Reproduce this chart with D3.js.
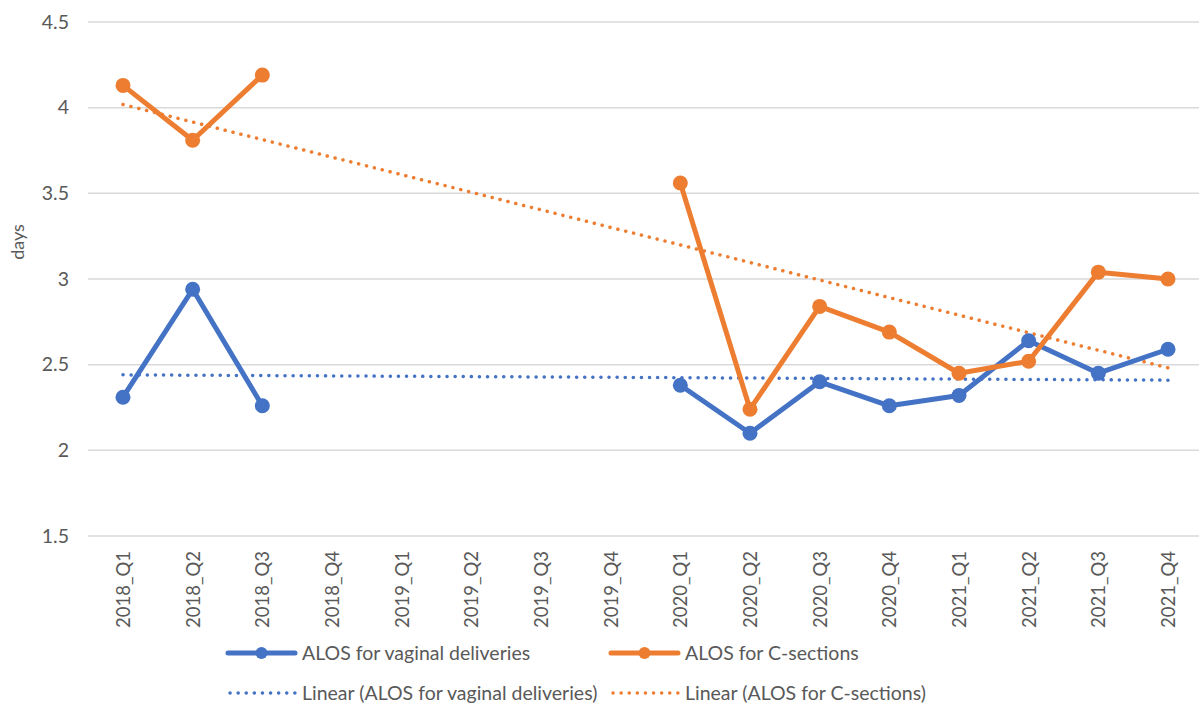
<!DOCTYPE html>
<html>
<head>
<meta charset="utf-8">
<script src="https://cdn.jsdelivr.net/npm/d3@7"></script>
<style>
  body { margin: 0; background: #fff; }
  text { font-family: Lato, "Open Sans", sans-serif; fill: #595959; }
</style>
</head>
<body>
<div id="chart-area"></div>
<script>
// Data
var quarters = ["2018_Q1", "2018_Q2", "2018_Q3", "2018_Q4", "2019_Q1", "2019_Q2", "2019_Q3", "2019_Q4",
                "2020_Q1", "2020_Q2", "2020_Q3", "2020_Q4", "2021_Q1", "2021_Q2", "2021_Q3", "2021_Q4"];
var vaginal = [2.31, 2.94, 2.26, null, null, null, null, null, 2.38, 2.10, 2.40, 2.26, 2.32, 2.64, 2.45, 2.59];
var csection = [4.13, 3.81, 4.19, null, null, null, null, null, 3.56, 2.24, 2.84, 2.69, 2.45, 2.52, 3.04, 3.00];
var yTicks = [1.5, 2, 2.5, 3, 3.5, 4, 4.5];
var seriesNames = ["ALOS for vaginal deliveries", "ALOS for C-sections"];
var colors = ["#4472C4", "#ED7D31"];

var W = 1199, H = 706;
var svg = d3.select("#chart-area").append("svg")
    .attr("width", W)
    .attr("height", H);

// Scales
var x = d3.scalePoint().domain(quarters).range([123, 1168]);
var y = d3.scaleLinear().domain([1.5, 4.5]).range([536, 22]);

// Gridlines
svg.append("g").selectAll("line")
    .data(yTicks)
    .enter().append("line")
    .attr("x1", 88).attr("x2", W)
    .attr("y1", d => y(d)).attr("y2", d => y(d))
    .attr("stroke", "#d9d9d9")
    .attr("stroke-width", 1.5);

// Y axis labels
var yAxis = svg.append("g")
    .attr("transform", "translate(69,0)")
    .call(d3.axisLeft(y).tickValues(yTicks).tickSize(0).tickPadding(0).tickFormat(d3.format("")));
yAxis.select(".domain").remove();
yAxis.attr("font-size", null).attr("font-family", null);
yAxis.selectAll("text").style("font-size", "19.5px").style("fill", "#595959");

svg.append("text")
    .attr("transform", "translate(24,242) rotate(-90)")
    .attr("text-anchor", "middle")
    .style("font-size", "18px")
    .text("days");

// X axis labels
var xAxis = svg.append("g")
    .attr("transform", "translate(0,540)")
    .call(d3.axisBottom(x).tickSize(0).tickPadding(0));
xAxis.select(".domain").remove();
xAxis.attr("font-size", null).attr("font-family", null);
xAxis.selectAll("text")
    .style("font-size", "18.5px")
    .style("fill", "#595959")
    .attr("text-anchor", "end")
    .attr("transform", "rotate(-90)")
    .attr("x", -11)
    .attr("y", 0)
    .attr("dy", "0.35em");

// Trend lines (least squares over present points)
function trend(vals) {
    var pts = vals.map((v, i) => [i + 1, v]).filter(p => p[1] != null);
    var mx = d3.mean(pts, p => p[0]), my = d3.mean(pts, p => p[1]);
    var sxy = d3.sum(pts, p => (p[0] - mx) * (p[1] - my));
    var sxx = d3.sum(pts, p => (p[0] - mx) * (p[0] - mx));
    var b = sxy / sxx, a = my - b * mx;
    return [0, quarters.length - 1].map(i => ({q: quarters[i], v: a + b * (i + 1)}));
}

var line = d3.line()
    .defined(d => d.v != null)
    .x(d => x(d.q))
    .y(d => y(d.v));

[vaginal, csection].forEach((vals, i) => {
    svg.append("path")
        .datum(trend(vals))
        .attr("fill", "none")
        .attr("stroke", colors[i])
        .attr("stroke-width", 3.5)
        .attr("stroke-linecap", "round")
        .attr("stroke-dasharray", "0.1,8")
        .attr("d", line);
});

[vaginal, csection].forEach((vals, i) => {
    var data = vals.map((v, j) => ({q: quarters[j], v: v}));
    svg.append("path")
        .datum(data)
        .attr("fill", "none")
        .attr("stroke", colors[i])
        .attr("stroke-width", 5)
        .attr("stroke-linejoin", "round")
        .attr("d", line);
    svg.append("g").selectAll("circle")
        .data(data.filter(d => d.v != null))
        .enter().append("circle")
        .attr("cx", d => x(d.q))
        .attr("cy", d => y(d.v))
        .attr("r", 7.5)
        .attr("fill", colors[i]);
});

// Legend
var legendX = [228, 611];
seriesNames.forEach((name, i) => {
    var g = svg.append("g").attr("transform", "translate(" + legendX[i] + ",653)");
    g.append("line").attr("x1", 0).attr("x2", 67)
        .attr("stroke", colors[i]).attr("stroke-width", 5).attr("stroke-linecap", "round");
    g.append("circle").attr("cx", 33.5).attr("r", 6).attr("fill", colors[i]);
    g.append("text").attr("x", 74).attr("dy", "0.35em").style("font-size", "19.5px").text(name);

    var g2 = svg.append("g").attr("transform", "translate(" + legendX[i] + ",693)");
    g2.append("line").attr("x1", 2).attr("x2", 67)
        .attr("stroke", colors[i]).attr("stroke-width", 3.5)
        .attr("stroke-linecap", "round").attr("stroke-dasharray", "0.1,8");
    g2.append("text").attr("x", 74).attr("dy", "0.35em").style("font-size", "19.5px")
        .text("Linear (" + name + ")");
});
</script>
</body>
</html>
